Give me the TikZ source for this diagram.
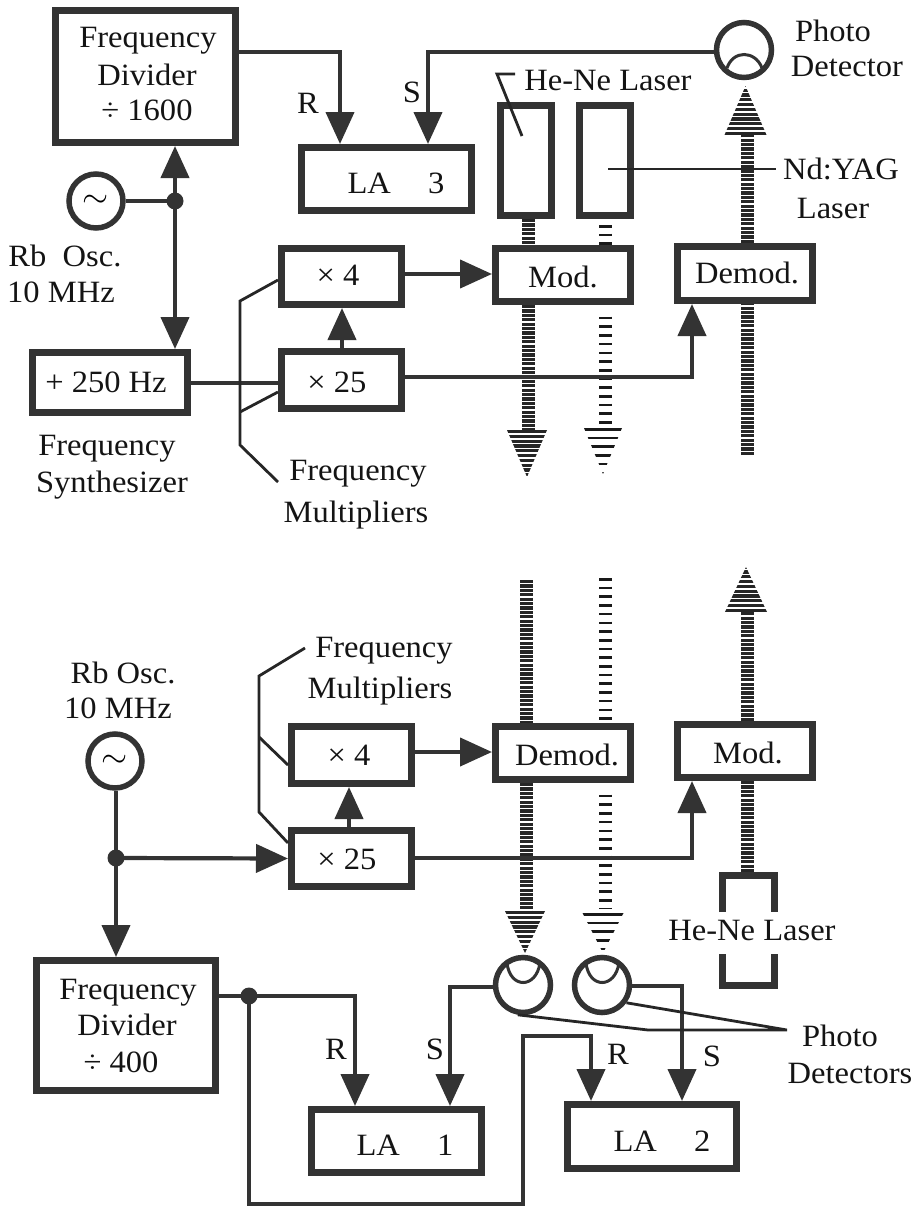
\documentclass[tikz,border=0pt]{standalone}
\usepackage{fontspec}
\setmainfont[FakeStretch=1.05]{Liberation Serif}
\usetikzlibrary{arrows.meta}
\definecolor{ink}{gray}{0.2}
\tikzset{
  blk/.style={draw=ink,line width=7pt,fill=white,inner sep=0pt},
  osc/.style={circle,draw=ink,line width=5.5pt,fill=white,inner sep=0pt,minimum size=54pt,font=\fontsize{24}{24}\selectfont},
  pdet/.style={circle,draw=ink,line width=5.5pt,fill=white,inner sep=0pt,minimum size=55pt},
  lens/.style={draw=ink,line width=3pt},
  junc/.style={circle,fill=ink,inner sep=0pt,minimum size=17pt},
  txt/.style={inner sep=0pt,text=black!92,font=\fontsize{31}{31}\selectfont,text height=20pt,text depth=0pt},
  wire/.style={draw=ink,line width=4.2pt},
  arr/.style={wire,-{Triangle[length=32pt,width=28pt,fill=ink]}},
  leader/.style={draw=black!85,line width=2.8pt},
  dense/.style={draw=black!85,line width=13pt,dash pattern=on 3.2pt off 1.2pt},
  sparse/.style={draw=black!90,line width=13pt,dash pattern=on 2.6pt off 6.1pt},
  hdense/.style={draw=black!85,line width=44pt,dash pattern=on 3.2pt off 1.6pt},
  hsparse/.style={draw=black!90,line width=44pt,dash pattern=on 2.6pt off 6.1pt},
}
% x, base y, tip y, half width, stripe style
\newcommand{\beamhead}[5]{%
  \begin{scope}
    \clip (#1-#4,#2) -- (#1+#4,#2) -- (#1,#3) -- cycle;
    \draw[#5] (#1,#2) -- (#1,#3);
  \end{scope}}
\newcommand{\wave}{\scalebox{1.35}{$\sim$}}
\begin{document}
\begin{tikzpicture}[x=1pt,y=-1pt]
\useasboundingbox (0,0) rectangle (916,1207);
% ---------- beam positions
\coordinate (bxa) at (528,0);
\coordinate (bxb) at (605,0);
\coordinate (bxc) at (747,0);
\coordinate (bya) at (526,0);
\coordinate (byb) at (605,0);
\coordinate (byc) at (747,0);

% ---------- top boxes
\node[blk,minimum width=180pt,minimum height=132pt] (fda) at (145.5,76.5) {};
\node[blk,minimum width=170pt,minimum height=63pt] (laC) at (386.5,179) {};
\node[blk,minimum width=155pt,minimum height=60pt] (syn) at (110,382.5) {};
\node[blk,minimum width=120pt,minimum height=56pt] (xfa) at (341.5,276.5) {};
\node[blk,minimum width=120pt,minimum height=57pt] (xta) at (341.5,380) {};
\node[blk,minimum width=51pt,minimum height=110pt] (lsa) at (526,160.5) {};
\node[blk,minimum width=51pt,minimum height=110pt] (lsb) at (605,160.5) {};
\node[blk,minimum width=135pt,minimum height=53pt] (moda) at (563,275) {};
\node[blk,minimum width=135pt,minimum height=54pt] (dema) at (745,273.5) {};
\node[osc] (oa) at (96,201) {\wave};
\node[pdet,minimum size=55pt] (pda) at (744,50) {};
\node[junc] (ja) at (175,201) {};

% top beams
\draw[dense]  (lsa.south -| bxa) -- (moda.north -| bxa);
\draw[sparse] (lsb.south -| bxb) ++(0,6) -- (moda.north -| bxb);
\draw[dense]  (moda.south -| bxa) -- (bxa |- 0,430);
\draw[sparse,dash phase=3pt] (moda.south -| bxb) ++(0,6) -- (bxb |- 0,426);
\draw[dense]  (bxc |- 0,455) -- (dema.south -| bxc);
\draw[dense]  (dema.north -| bxc) -- (bxc |- 0,135);
\beamhead{527}{430}{477}{20}{hdense}
\beamhead{603}{428}{474}{19}{hsparse}
\beamhead{745.5}{135}{86}{21}{hdense}

% top connectors
\coordinate (rta) at (340,52);
\coordinate (sta) at (428,52);
\coordinate (dta) at (692,377);
\draw[arr] (fda.east |- rta) -- (rta) -- (rta |- laC.north);
\draw[arr] (pda.west |- sta) -- (sta) -- (sta |- laC.north);
\draw[wire] (oa.east) -- (ja.center);
\draw[arr] (ja.center) -- (ja.center |- fda.south);
\draw[arr] (ja.center) -- (ja.center |- syn.north);
\draw[wire] (syn.east |- xta.west) ++(0,3) -- ++(90,0);
\draw[arr] (xta.north -| 342,0) -- (xfa.south -| 342,0);
\draw[arr] (xfa.east |- 0,274) -- (moda.west |- 0,274);
\draw[arr] (xta.east |- dta) -- (dta) -- (dta |- dema.south);

% inner shapes of top detector
\draw[lens] (727,68) .. controls (733,50) and (755,50) .. (762,68);

% top leaders
\coordinate (lla) at (515,74);
\coordinate (llb) at (497,74);
\coordinate (llc) at (522,136);
\coordinate (nda) at (608,169);
\coordinate (ndb) at (776,169);
\coordinate (fma) at (240,301);
\coordinate (fmb) at (240,445);
\coordinate (fmc) at (278,482);
\coordinate (fmd) at (240,412);
\draw[leader] (lla) -- (llb) -- (llc);
\draw[leader] (nda) -- (ndb);
\draw[leader] (xfa.west |- 0,280) -- (fma) -- (fmb) -- (fmc);
\draw[leader] (fmd) -- (xta.west |- 0,392);

% top text
\node[txt] (t1) at (148,38) {Frequency};
\node[txt] (t2) at (147,75) {Divider};
\node[txt] (t3) at (147,110) {÷ 1600};
\node[txt] (t4) at (308,103) {R};
\node[txt] (t5) at (412,92) {S};
\node[txt] (t6) at (396,183) {LA\hspace{1.2em}3};
\node[txt] (t7) at (65,256) {Rb\ \ Osc.};
\node[txt] (t8) at (61,292) {10 MHz};
\node[txt] (t9) at (106,382) {+ 250 Hz};
\node[txt] (t10) at (107,445) {Frequency};
\node[txt] (t11) at (112,482) {Synthesizer};
\node[txt] (t12) at (338,275) {× 4};
\node[txt] (t13) at (337,382) {× 25};
\node[txt] (t14) at (358,470) {Frequency};
\node[txt] (t15) at (356,512) {Multipliers};
\node[txt] (t16) at (608,80) {He-Ne Laser};
\node[txt] (t17) at (563,277) {Mod.};
\node[txt] (t18) at (747,273) {Demod.};
\node[txt] (t19) at (833,32) {Photo};
\node[txt] (t20) at (847,67) {Detector};
\node[txt] (t21) at (841,169) {Nd:YAG};
\node[txt] (t22) at (833,208) {Laser};

% ---------- bottom boxes
\node[osc] (ob) at (115,761) {\wave};
\node[junc] (jb) at (116,858) {};
\node[blk,minimum width=179pt,minimum height=130pt] (fdb) at (126,1025.5) {};
\node[blk,minimum width=120pt,minimum height=57pt] (xfb) at (351.5,755) {};
\node[blk,minimum width=120pt,minimum height=56pt] (xtb) at (351.5,858.5) {};
\node[blk,minimum width=135pt,minimum height=53pt] (demb) at (563,753) {};
\node[blk,minimum width=135pt,minimum height=53pt] (modb) at (745,751) {};
\node[blk,minimum width=170pt,minimum height=63pt] (laA) at (396.5,1141) {};
\node[blk,minimum width=169pt,minimum height=64pt] (laB) at (652,1136.5) {};
\node[pdet] (pdb) at (523,985) {};
\node[pdet] (pdc) at (602,985) {};
\node[junc] (jc) at (249,996) {};

% bottom beams
\draw[dense]  (bya |- 0,580) -- (demb.north -| bya);
\draw[sparse] (byb |- 0,578) -- (demb.north -| byb);
\draw[dense]  (demb.south -| bya) -- (bya |- 0,911);
\draw[sparse,dash phase=3pt] (demb.south -| byb) ++(0,6) -- (byb |- 0,908);
\draw[dense]  (modb.north -| byc) -- (byc |- 0,612);
\draw[dense]  (modb.south -| byc) -- (byc |- 0,872);
\beamhead{525}{911}{953}{20}{hdense}
\beamhead{603}{913}{953}{20.5}{hsparse}
\beamhead{746}{612}{567}{21}{hdense}

% He-Ne bracket
\coordinate (ba) at (722,912);
\coordinate (bb) at (722,875);
\coordinate (bc) at (774,875);
\coordinate (bd) at (774,912);
\coordinate (be) at (722,954);
\coordinate (bf) at (722,985);
\coordinate (bg) at (774,985);
\coordinate (bh) at (774,954);
\draw[draw=ink,line width=7pt] (ba) -- (bb) -- (bc) -- (bd);
\draw[draw=ink,line width=7pt] (be) -- (bf) -- (bg) -- (bh);

% bottom connectors
\coordinate (rtb) at (355,996);
\coordinate (stb) at (450,987);
\coordinate (stc) at (682,986);
\coordinate (rca) at (249,1204);
\coordinate (rcb) at (523,1204);
\coordinate (rcc) at (523,1036);
\coordinate (rcd) at (591,1036);
\coordinate (dtb) at (692,858);
\draw[wire] (ob.south -| jb) -- (jb.center);
\draw[arr] (jb.center) -- (jb.center |- fdb.north);
\draw[arr] (jb.center) -- (xtb.west);
\draw[arr] (xtb.north -| 349,0) -- (xfb.south -| 349,0);
\draw[arr] (xfb.east |- 0,752) -- (demb.west |- 0,752);
\draw[arr] (xtb.east |- dtb) -- (dtb) -- (dtb |- modb.south);
\draw[wire] (fdb.east |- jc) -- (jc.center);
\draw[arr] (jc.center) -- (rtb) -- (rtb |- laA.north);
\draw[arr] (pdb.west |- stb) -- (stb) -- (stb |- laA.north);
\draw[arr] (pdc.east |- stc) -- (stc) -- (stc |- laB.north);
\draw[arr] (jc.center) -- (rca) -- (rcb) -- (rcc) -- (rcd) -- (rcd |- laB.north);

% inner shapes of bottom detectors
\draw[lens] (507,963) .. controls (510,989) and (536,989) .. (540,963);
\draw[lens] (586,963) .. controls (589,989) and (615,989) .. (619,963);

% bottom leaders
\coordinate (fme) at (305,648);
\coordinate (fmf) at (259,676);
\coordinate (fmg) at (259,812);
\coordinate (fmh) at (259,737);
\coordinate (pla) at (648,1030);
\coordinate (plb) at (787,1030);
\draw[leader] (fme) -- (fmf) -- (fmg) -- (xtb.west |- 0,843);
\draw[leader] (fmh) -- (xfb.west |- 0,765);
\draw[leader] (pdb.-100) -- (pla) -- (plb) -- (pdc.-36);

% bottom text
\node[txt] (b1) at (123,673) {Rb Osc.};
\node[txt] (b2) at (118,708) {10 MHz};
\node[txt] (b3) at (384,647) {Frequency};
\node[txt] (b4) at (380,688) {Multipliers};
\node[txt] (b5) at (349,755) {× 4};
\node[txt] (b6) at (347,859) {× 25};
\node[txt] (b7) at (567,755) {Demod.};
\node[txt] (b8) at (748,753) {Mod.};
\node[txt] (b9) at (752,930) {He-Ne Laser};
\node[txt] (b10) at (128,989) {Frequency};
\node[txt] (b11) at (127,1025) {Divider};
\node[txt] (b12) at (121,1062) {÷ 400};
\node[txt] (b13) at (336,1049) {R};
\node[txt] (b14) at (435,1049) {S};
\node[txt] (b15) at (618,1054) {R};
\node[txt] (b16) at (712,1056) {S};
\node[txt] (b17) at (405,1145) {LA\hspace{1.2em}1};
\node[txt] (b18) at (662,1141) {LA\hspace{1.2em}2};
\node[txt] (b19) at (840,1036) {Photo};
\node[txt] (b20) at (850,1073) {Detectors};
\end{tikzpicture}
\end{document}
